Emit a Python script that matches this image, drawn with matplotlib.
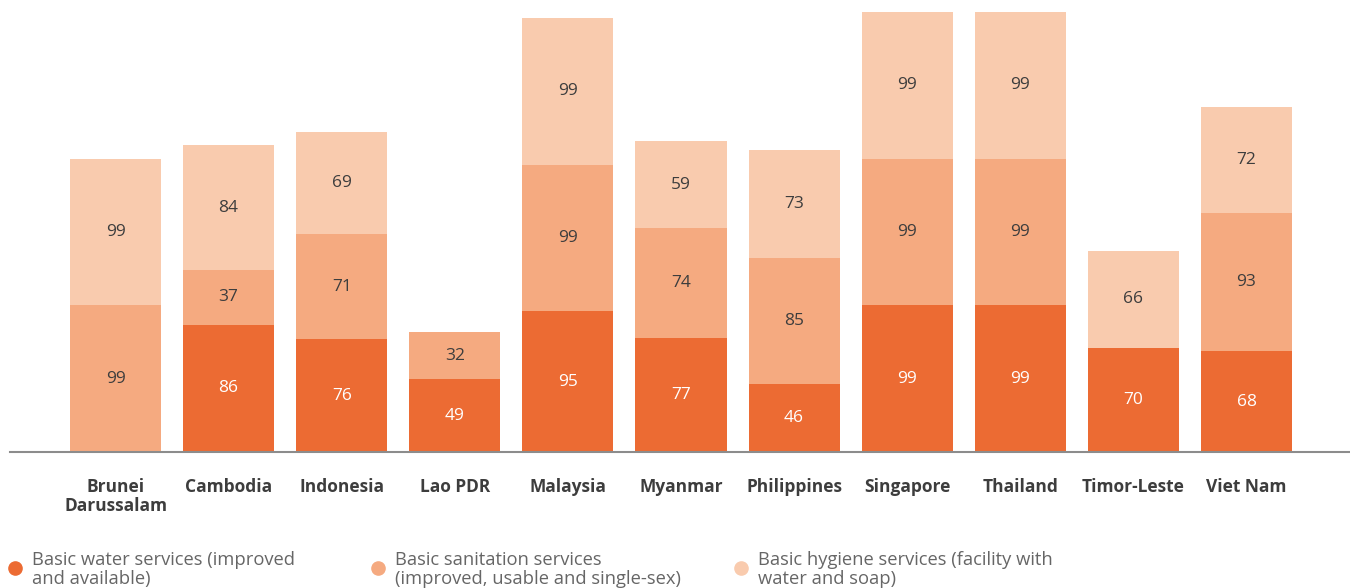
import numpy as np
import matplotlib.pyplot as plt
from matplotlib.lines import Line2D

plt.rcParams['font.family'] = ['Open Sans', 'DejaVu Sans']

countries = ['Brunei\nDarussalam', 'Cambodia', 'Indonesia', 'Lao PDR', 'Malaysia',
             'Myanmar', 'Philippines', 'Singapore', 'Thailand', 'Timor-Leste', 'Viet Nam']
water = [np.nan, 86, 76, 49, 95, 77, 46, 99, 99, 70, 68]
sanitation = [99, 37, 71, 32, 99, 74, 85, 99, 99, np.nan, 93]
hygiene = [99, 84, 69, np.nan, 99, 59, 73, 99, 99, 66, 72]

series = [
    ('Basic water services (improved\nand available)', water, '#ec6b33', 'white'),
    ('Basic sanitation services\n(improved, usable and single-sex)', sanitation, '#f5aa80', '#3d3d3d'),
    ('Basic hygiene services (facility with\nwater and soap)', hygiene, '#f9cbae', '#3d3d3d'),
]

fig = plt.figure(figsize=(13.5, 5.88), dpi=100)
ax = fig.add_axes([0.0074, 0.2313, 0.9926, 0.7483])

x = np.arange(len(countries))
bottom = np.zeros(len(countries))
for name, vals, color, txt in series:
    v = np.nan_to_num(np.array(vals, dtype=float))
    ax.bar(x, v, 0.805, bottom=bottom, color=color, linewidth=0)
    for i, val in enumerate(vals):
        if not np.isnan(val):
            ax.text(x[i], bottom[i] + val / 2, f'{val:.0f}', ha='center', va='center',
                    fontsize=12.5, color=txt)
    bottom += v

ax.set_xlim(-0.933, 10.915)
ax.set_ylim(0, 297)
ax.set_xticks(x)
ax.set_xticklabels(countries, fontsize=12.5, fontweight='bold', color='#3d3d3d',
                   linespacing=1.05)
ax.tick_params(axis='x', length=0, pad=19)
ax.set_yticks([])
for s in ['top', 'right', 'left']:
    ax.spines[s].set_visible(False)
ax.spines['bottom'].set_color('#8c8c8c')
ax.spines['bottom'].set_linewidth(1.5)

# legend along the bottom edge
for k, (name, vals, color, txt) in enumerate(series):
    x0 = 15 + k * 363
    fig.add_artist(Line2D([x0 / 1350], [20 / 588], marker='o', markersize=9.5,
                          color=color, linestyle='none', transform=fig.transFigure))
    fig.text((x0 + 17) / 1350, 37 / 588, name, fontsize=13.2, color='#666666',
             va='top', ha='left', linespacing=1.05)

fig.savefig('out.png', dpi=100)
